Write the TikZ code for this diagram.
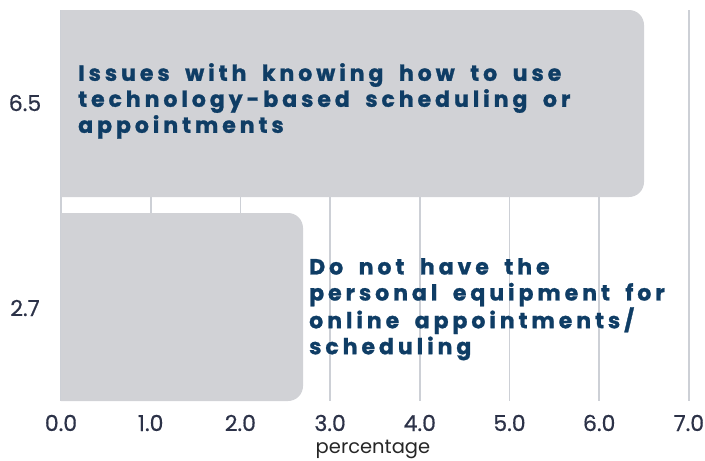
\documentclass[tikz,border=0pt]{standalone}
\usepackage{fontspec}
\setmainfont{Poppins}
\newfontfamily\barfont[LetterSpace=18,WordSpace=1.8,BoldFeatures={FakeBold=1.2}]{Poppins}
\newfontfamily\tickfont[FakeBold=0.6]{Poppins}
\definecolor{barcol}{HTML}{D1D2D6}
\definecolor{gridcol}{HTML}{CDD0D6}
\definecolor{labcol}{HTML}{0F3D65}
\definecolor{tickcol}{HTML}{2C3248}
\begin{document}
\begin{tikzpicture}[x=1pt,y=-1pt,
  gridline/.style={draw=gridcol,line width=1.6pt},
  tick/.style={font=\tickfont\fontsize{22}{22}\selectfont, text=tickcol, anchor=center, inner sep=0pt},
  barlabel/.style={font=\barfont\bfseries\fontsize{22}{26}\selectfont, text=labcol, align=left, anchor=north west, inner sep=0pt}]
\useasboundingbox (0,0) rectangle (705,461);
% grid
\foreach \i in {0,...,7} {
  \draw[gridline] ({61+\i*89.7},10) -- ({61+\i*89.7},401);
}
% bars
\begin{scope}
  \clip (61,0) rectangle (705,461);
  \fill[barcol, rounded corners=15pt] (30,10) rectangle (644,197);
  \fill[barcol, rounded corners=15pt] (30,213) rectangle (303,401);
\end{scope}
% bar labels
\node[barlabel] (l1) at (78,63) {Issues with knowing how to use\\technology-based scheduling or\\appointments};
\node[barlabel] (l2) at (309,258) {Do not have the\\personal equipment for\\online appointments/\\scheduling};
% value labels
\node[tick] (v1) at (25,103) {6.5};
\node[tick] (v2) at (25,308) {2.7};
% x tick labels
\foreach \i/\t in {0/0.0,1/1.0,2/2.0,3/3.0,4/4.0,5/5.0,6/6.0,7/7.0} {
  \node[tick] (x\i) at ({61+\i*89.7},423) {\t};
}
\node[font=\fontsize{19.5}{19.5}\selectfont, text=black!85, inner sep=0pt] (xl) at (373,449) {percentage};
\end{tikzpicture}
\end{document}
